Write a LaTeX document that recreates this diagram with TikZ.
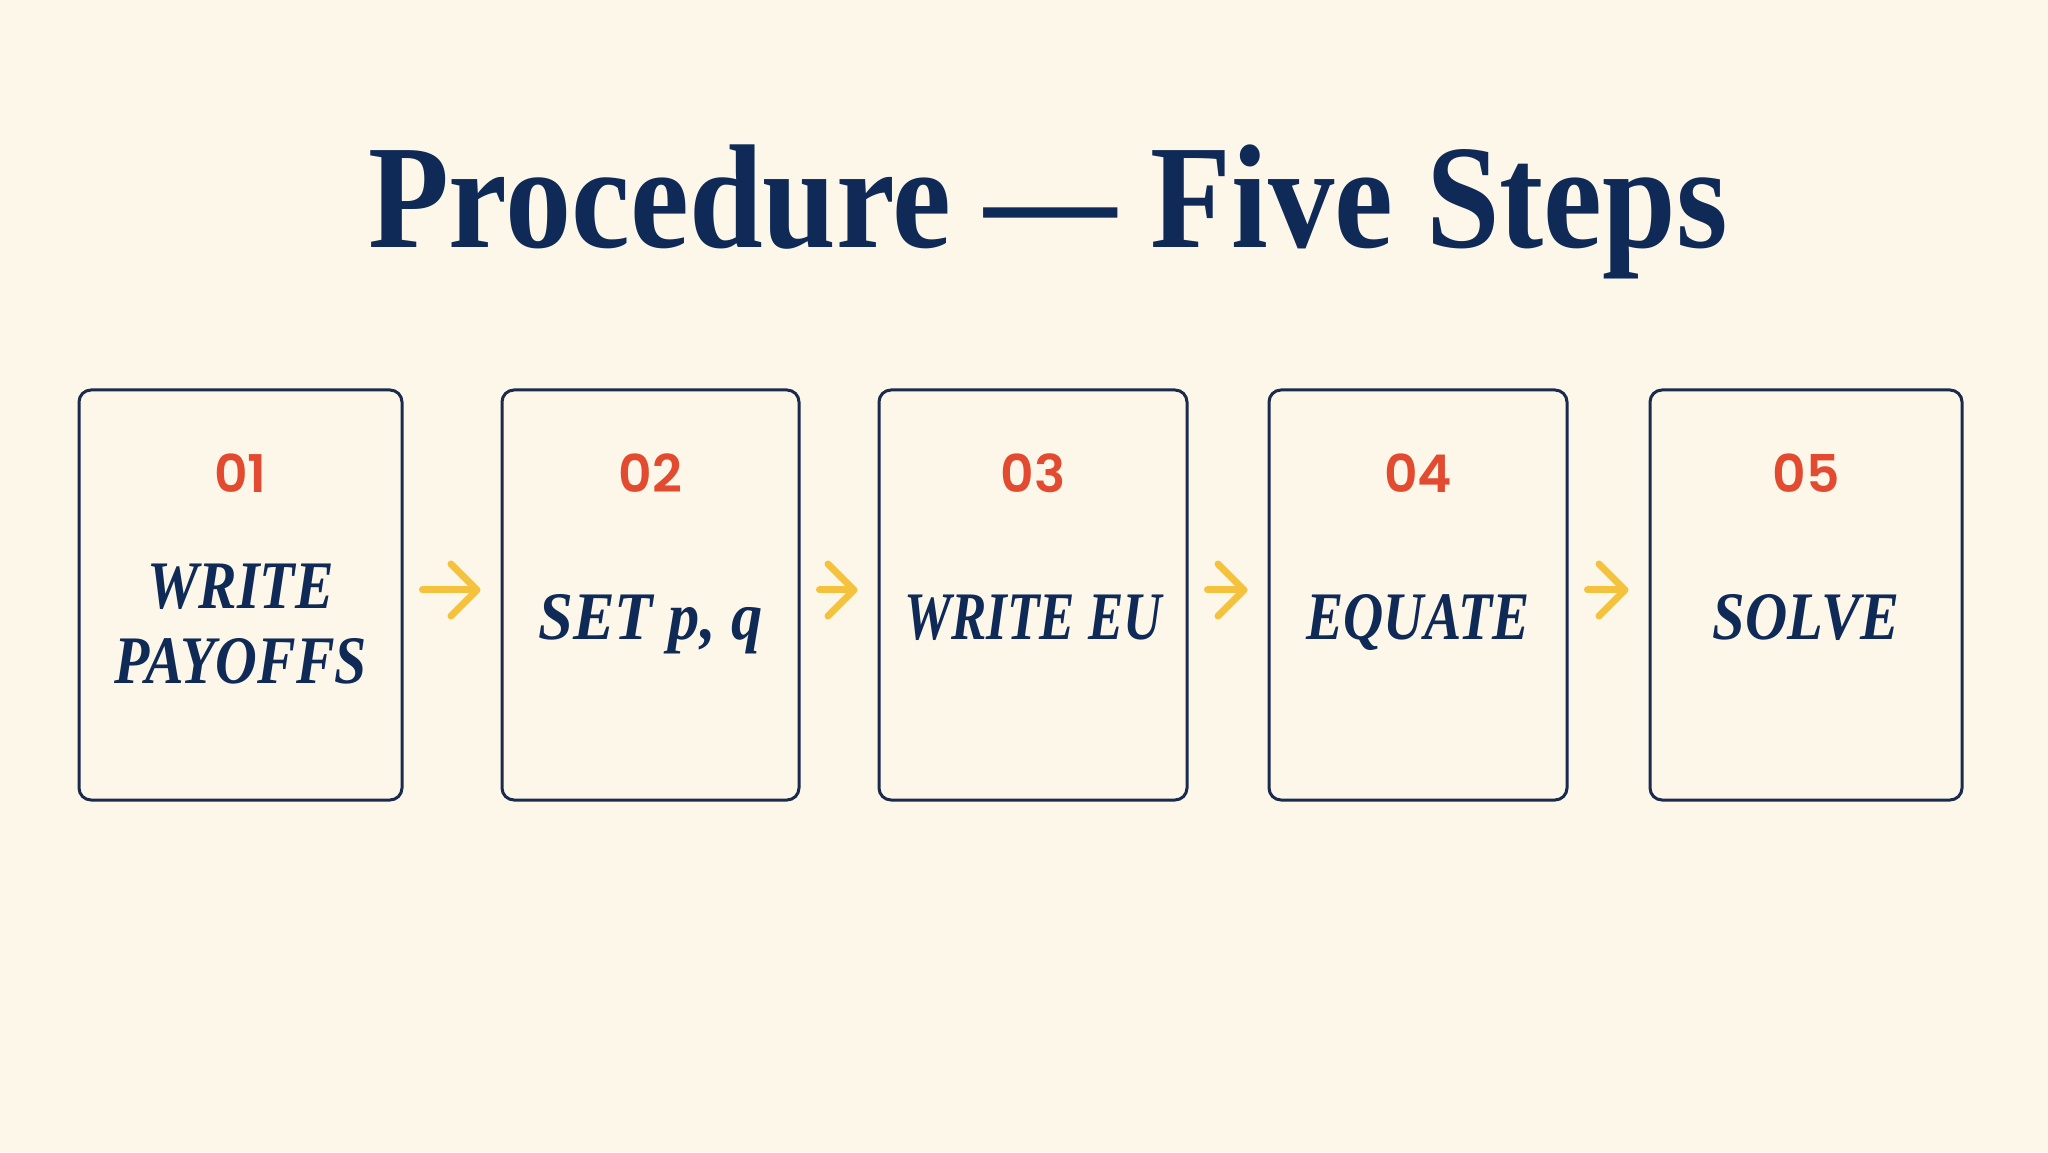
\documentclass[tikz,border=0pt]{standalone}
\usepackage{fontspec}
\setmainfont{Liberation Serif}
\newfontfamily\numfont{Poppins}[BoldFont={Poppins SemiBold}]
\usetikzlibrary{calc,arrows.meta}
\definecolor{paper}{HTML}{FCF7E9}
\definecolor{navy}{HTML}{0F2A56}
\definecolor{cardedge}{HTML}{1B2B4D}
\definecolor{stepred}{HTML}{E24B2F}
\definecolor{amber}{HTML}{F5C23E}
% name, centre x, width, number, squeeze, baseline y, label
\newcommand{\stepcard}[7]{
	\node[card, minimum width=#3*0.5pt] (#1) at (#2,557) {};
	\node[stepnum] (#1num) at (#2,659) {#4};
	\node[steptext] (#1txt) at (#2,#6) {\scalebox{#5}[1]{#7}};
}

\begin{document}
\begin{tikzpicture}[x=0.5pt,y=0.5pt,
	card/.style={draw=cardedge, line width=1.5pt, rounded corners=6pt,
		minimum height=205pt, inner sep=0pt},
	stepnum/.style={anchor=base, text=stepred, inner sep=0pt,
		font=\numfont\bfseries\fontsize{26}{30}\selectfont},
	steptext/.style={anchor=base, text=navy, inner sep=0pt,
		font=\fontsize{34}{37.5}\selectfont\bfseries\itshape},
	flow/.style={draw=amber, line width=3.5pt, line cap=round,
		-{Straight Barb[length=13pt,width=26pt,round]},
		shorten <=9.5pt, shorten >=10pt}]
	\useasboundingbox (0,0) rectangle (2048,1152);
	\fill[paper] (0,0) rectangle (2048,1152);

	\node[anchor=base, text=navy, inner sep=0pt,
		font=\fontsize{74}{80}\selectfont\bfseries] (title) at (1048,904)
		{\scalebox{0.895}[1]{Procedure — Five Steps}};

	\stepcard{b1}{240.5}{323}{01}{0.85}{469}{\begin{tabular}[b]{@{}c@{}}WRITE\\PAYOFFS\end{tabular}}
	\stepcard{b2}{650.5}{297}{02}{0.92}{512}{SET p, q}
	\stepcard{b3}{1033}{308}{03}{0.78}{512}{WRITE EU}
	\stepcard{b4}{1418}{298}{04}{0.82}{512}{EQUATE}
	\stepcard{b5}{1806}{312}{05}{0.86}{512}{SOLVE}

	\foreach \a/\b in {b1/b2,b2/b3,b3/b4,b4/b5}
		\draw[flow] ([yshift=2.5pt]\a.east) -- ([yshift=2.5pt]\b.west);
\end{tikzpicture}
\end{document}
